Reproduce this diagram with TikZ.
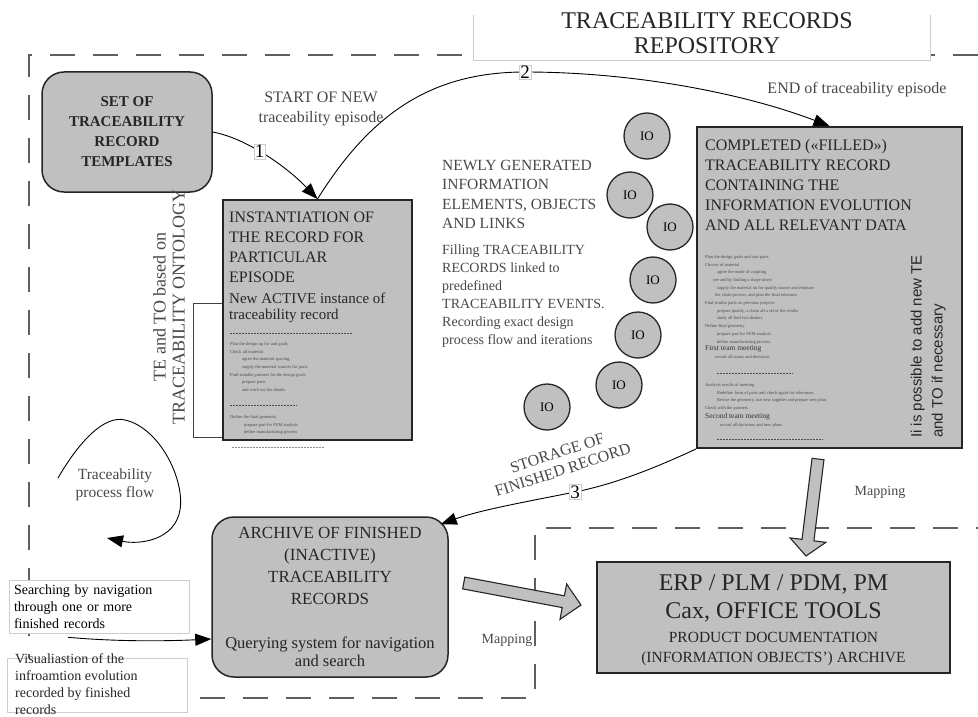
\documentclass[tikz,border=0pt]{standalone}
\usepackage{fontspec}
\setmainfont{Liberation Serif}
\newfontfamily\notefont{Liberation Sans}
\usepackage{xcolor}
\usetikzlibrary{arrows.meta,calc,positioning}

\definecolor{boxgray}{RGB}{192,192,192}
\definecolor{txtgray}{RGB}{72,72,72}
\definecolor{dashgray}{RGB}{95,95,95}
\definecolor{framegray}{RGB}{205,205,205}

\newcommand{\setfs}[2]{\fontsize{#1}{#2}\selectfont}
% wide grey "mapping" arrow between two points
\newcommand{\mapArrow}[3]{%
  \coordinate (mahead) at ($(#2)!#3!(#1)$);
  \filldraw[maparrow] ($(#1)!6pt!90:(#2)$) -- ($(mahead)!6pt!90:(#2)$)
    -- ($(mahead)!18pt!90:(#2)$) -- (#2) -- ($(mahead)!18pt!-90:(#2)$)
    -- ($(mahead)!6pt!-90:(#2)$) -- ($(#1)!6pt!-90:(#2)$) -- cycle;}

\begin{document}
\begin{tikzpicture}[x=1pt,y=-1pt,
  flow/.style={draw=black, line width=0.9pt, -{Triangle[length=16pt,width=12pt]}},
  recbox/.style={draw=black!85, line width=2pt, fill=boxgray, inner sep=0pt},
  roundbox/.style={draw=black!85, line width=1.5pt, fill=boxgray, rounded corners=22pt, align=center, inner sep=0pt, text=black!85},
  io/.style={circle, draw=black!85, line width=1.3pt, fill=boxgray, minimum size=46pt, inner sep=0pt, font=\setfs{13}{13}},
  numlabel/.style={fill=white, draw=framegray, line width=0.4pt, inner sep=1pt, font=\setfs{19}{19}},
  notebox/.style={draw=framegray, line width=0.6pt, fill=white, inner sep=0pt},
  lbl/.style={text=txtgray, align=center, inner sep=0pt},
  plain/.style={align=left, inner sep=0pt, text=black!85},
  tinytext/.style={align=left, inner sep=0pt, text=black!70, font=\setfs{4.5}{7.7}},
  meettext/.style={inner sep=0pt, text=black!80, font=\setfs{7.5}{7.5}},
  sepline/.style={draw=black!70, line width=0.6pt, dash pattern=on 2.2pt off 0.8pt},
  maparrow/.style={draw=black!85, line width=1.1pt, fill=boxgray, line join=miter},
  repodash/.style={draw=dashgray, line width=1.3pt, dash pattern=on 25pt off 18pt}]
\useasboundingbox (0,0) rectangle (978,717);

% repository area
\draw[repodash] (978,55) -- (29,55) -- (29,698) -- (535,698) -- (535,528) -- (978,528);
\path[fill=white] (473,0) rectangle (930,60);
\draw[framegray, line width=0.8pt] (473,15) -- (473,60) -- (930,60) -- (930,15);
\node[align=center, inner sep=0pt, anchor=north, text=black!85, font=\setfs{24}{25}] (repoTitle) at (707,12)
  {TRACEABILITY RECORDS\\REPOSITORY};

% templates and new record
\node[roundbox, minimum width=170pt, minimum height=120pt, font=\bfseries\setfs{15}{20}] (templ) at (127,132)
  {SET OF\\TRACEABILITY\\RECORD\\TEMPLATES};
\node[lbl, font=\setfs{16}{20}] (startLbl) at (321,108.5) {START OF NEW\\traceability episode};

\node[recbox, minimum width=189pt, minimum height=240pt] (inst) at (317.5,320) {};
\node[plain, anchor=north west, font=\setfs{16}{20}] (instHead) at (229,212)
  {INSTANTIATION OF\\THE RECORD FOR\\PARTICULAR\\EPISODE};
\node[plain, anchor=north west, font=\setfs{15}{15.5}] (instSub) at (229,293)
  {New ACTIVE instance of\\traceability record};
\draw[sepline] (230,333) -- (352,333);
\node[tinytext, anchor=north west] (instNotesA) at (230,342)
  {Plan the design up for and goals\\Check all material\\
   \hspace*{12pt}agree the material spacing,\\\hspace*{12pt}supply the material sources for parts\\
   Find suitable partners for the design goals\\\hspace*{12pt}prepare parts\\
   \hspace*{12pt}and work out the details};
\draw[sepline] (230,405) -- (297,405);
\node[tinytext, anchor=north west] (instNotesB) at (230,415)
  {Define the final geometry\\\hspace*{14pt}prepare part for FEM analysis\\
   \hspace*{14pt}define manufacturing process};
\draw[sepline, draw=black!45] (232,447) -- (325,447);

\draw[black!75, line width=0.8pt] (222,303) -- (193,303) -- (193,437) -- (222,437);
\node[lbl, rotate=90, font=\setfs{18}{19}] (tetoLbl) at (169,307) {TE and TO based on\\TRACEABILITY ONTOLOGY};

% information objects
\node[plain, anchor=north west, text=txtgray, font=\setfs{15.5}{19.5}] (newlyLbl) at (442,160)
  {NEWLY GENERATED\\INFORMATION\\ELEMENTS, OBJECTS\\AND LINKS};
\node[plain, anchor=north west, text=txtgray, font=\setfs{14}{18}] (fillLbl) at (442,245)
  {Filling TRACEABILITY\\RECORDS linked to\\predefined\\TRACEABILITY EVENTS.\\Recording exact design\\process flow and iterations};
\node[io] (io1) at (647,136) {IO};
\node[io] (io2) at (630,195) {IO};
\node[io] (io3) at (670,227) {IO};
\node[io] (io4) at (653,280) {IO};
\node[io] (io5) at (638,335) {IO};
\node[io] (io6) at (619,385) {IO};
\node[io] (io7) at (547,407) {IO};

% completed record
\node[recbox, minimum width=265pt, minimum height=321pt] (compl) at (829.5,287.5) {};
\node[plain, anchor=north west, font=\setfs{16}{20}] (complHead) at (705,139)
  {COMPLETED («FILLED»)\\TRACEABILITY RECORD\\CONTAINING THE\\INFORMATION EVOLUTION\\AND ALL RELEVANT DATA};
\node[tinytext, anchor=north west] (complNotesA) at (705,255)
  {Plan the design goals and sort parts\\Choose of material\\
   \hspace*{12pt}agree the mode of coupling\\\hspace*{8pt}see and by finding a shape insert\\
   \hspace*{12pt}supply the material on for quality source and estimate\\
   \hspace*{10pt}the chain process, and plan the final tolerance\\
   Find similar parts on previous projects\\\hspace*{12pt}prepare quality, a chain all a set of the results\\
   \hspace*{12pt}study all find two dealers\\Define final geometry\\
   \hspace*{12pt}prepare part for FEM analysis\\\hspace*{12pt}define manufacturing process};
\node[meettext, anchor=west] (meetA) at (705,349) {First team meeting};
\node[tinytext, anchor=north west] (complNotesB) at (715,355) {record all issues and decisions};
\draw[sepline] (717,373) -- (793,373);
\node[tinytext, anchor=north west] (complNotesC) at (705,383)
  {Analysis results of meeting\\\hspace*{12pt}Redefine form of parts and check again for tolerances\\
   \hspace*{12pt}Revise the geometry, use new supplier and prepare new plan\\Check with the partners};
\node[meettext, anchor=west] (meetB) at (705,417) {Second team meeting};
\node[tinytext, anchor=north west] (complNotesD) at (720,423) {record all decisions and new plans};
\draw[sepline] (717,439) -- (823,439);
\node[plain, rotate=90, anchor=south west, font=\notefont\setfs{15}{21}] (complNote) at (946,438)
  {Ii is possible to add new TE\\and TO if necessary};
\node[lbl, font=\setfs{16}{20}] (endLbl) at (857,89.5) {END of traceability episode};

% archive and tools
\node[roundbox, minimum width=236pt, minimum height=160pt] (arch) at (330,597) {};
\node[lbl, anchor=north, text=black!85, font=\setfs{17}{22}] (archHead) at (330,527.5)
  {ARCHIVE OF FINISHED\\(INACTIVE)\\TRACEABILITY\\RECORDS};
\node[lbl, anchor=north, text=black!85, font=\setfs{16.5}{18}] (archQuery) at (330,636.5)
  {Querying system for navigation\\and search};
\node[lbl, rotate=18, font=\setfs{16}{18}] (storeLbl) at (560,461.5) {STORAGE OF\\FINISHED RECORD};

\node[recbox, minimum width=353pt, minimum height=111pt] (erp) at (773.5,617.5) {};
\node[lbl, anchor=north, text=black!85, font=\setfs{24}{28}] (erpHead) at (773.5,574)
  {ERP / PLM / PDM, PM\\Cax, OFFICE TOOLS};
\node[lbl, anchor=north, text=black!85, font=\setfs{15.5}{20}] (erpSub) at (773.5,632)
  {PRODUCT DOCUMENTATION\\(INFORMATION OBJECTS') ARCHIVE};

% process flow
\draw[flow] (templ.east) .. controls (245,138) and (285,165) .. node[numlabel, pos=0.45] (num1) {1} (inst.north);
\draw[flow] (inst.north) .. controls (370,115) and (430,72) .. (525,72) node[numlabel] (num2) {2}
  .. controls (630,72) and (740,92) .. (compl.north);
\draw[flow] (compl.south west) .. controls (655,468) and (615,484) .. (575,492) node[numlabel] (num3) {3}
  .. controls (530,501) and (480,510) .. ([shift={(-8,8)}]arch.north east);

\coordinate (loopStart) at (58,478);
\coordinate (loopEnd) at (107,538);
\draw[flow] (loopStart) .. controls (80,440) and (105,415) .. (125,420)
  .. controls (160,428) and (185,480) .. (180,510) .. controls (175,540) and (140,545) .. (loopEnd);
\node[lbl, font=\setfs{15.5}{18}] (flowLbl) at (115,485) {Traceability\\process flow};

% searching / visualisation
\node[notebox, minimum width=180pt, minimum height=53pt, text width=170pt, align=left, font=\setfs{14}{17}] (srch) at (99,606.5)
  {Searching by navigation\\through one or more\\finished records};
\draw[flow] ([xshift=-31pt,yshift=-4pt]srch.south) .. controls (120,642) and (170,641) .. ([yshift=-42pt]arch.west);
\node[notebox, minimum width=180pt, minimum height=54pt] (visBox) at (97,685) {};
\node[plain, anchor=north west, font=\setfs{14}{17}] (visText) at (15,653)
  {Visualiastion of the\\infroamtion evolution\\recorded by finished\\records};

% mapping arrows
\coordinate (mapAs) at ([shift={(15,-14)}]arch.east);
\coordinate (mapAe) at ([shift={(-15,-12.5)}]erp.west);
\mapArrow{mapAs}{mapAe}{18pt}
\coordinate (mapBs) at ([shift={(-11.5,10)}]compl.south);
\coordinate (mapBe) at ([shift={(32.5,-5)}]erp.north);
\mapArrow{mapBs}{mapBe}{16pt}
\node[lbl, font=\setfs{14}{14}] (mapLblA) at (507,640) {Mapping};
\node[lbl, font=\setfs{14}{14}] (mapLblB) at (880,492) {Mapping};
\end{tikzpicture}
\end{document}
